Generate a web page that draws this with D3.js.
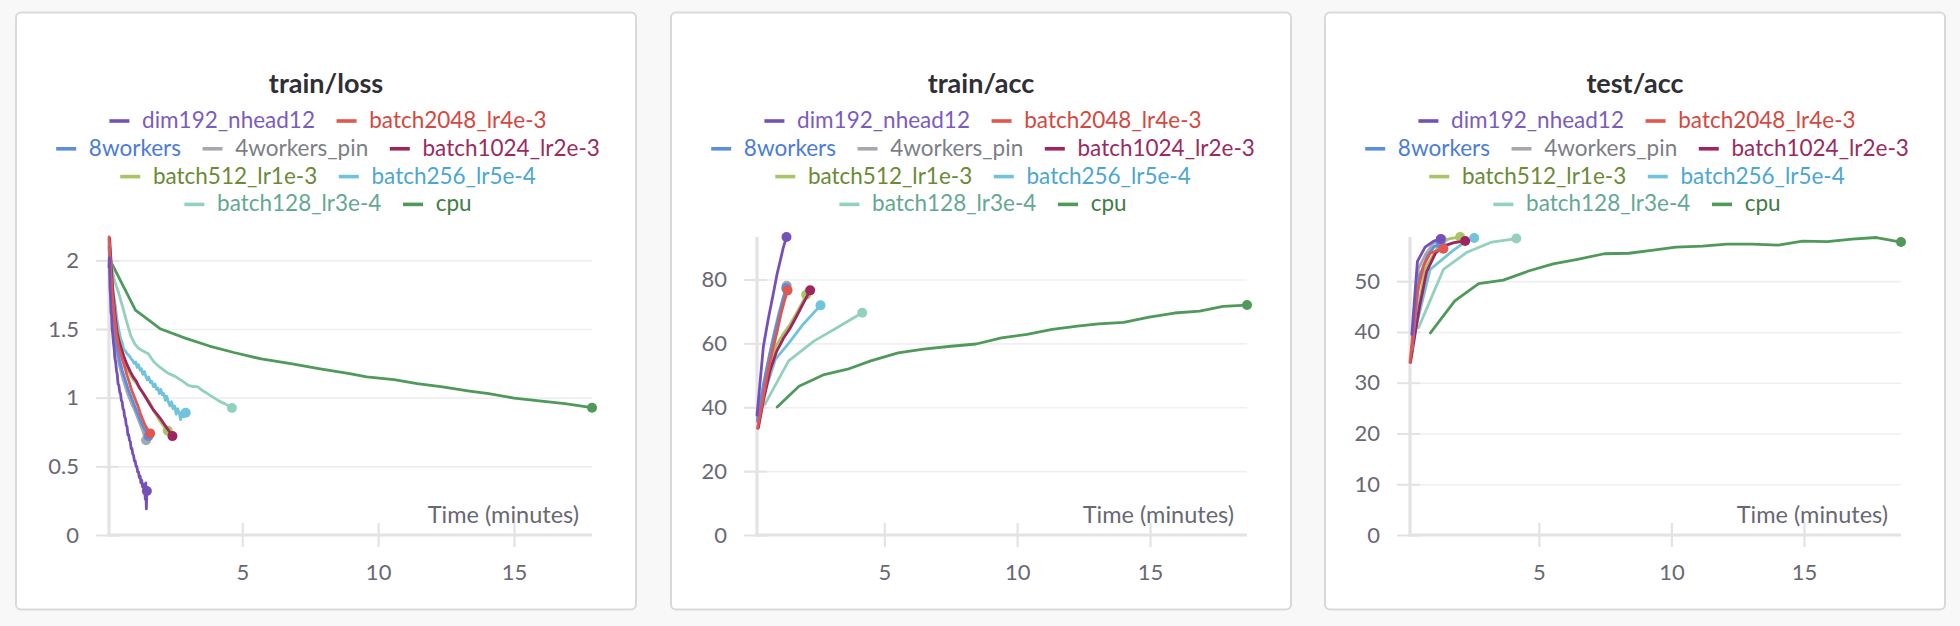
<!DOCTYPE html>
<html><head><meta charset="utf-8">
<script src="https://cdn.jsdelivr.net/npm/d3@7"></script>
<style>
html,body{margin:0;padding:0;background:#f8f8f8;}
svg{display:block;font-family:Lato,"Open Sans",sans-serif;}
</style>
</head><body>
<svg id="c" width="1960" height="626"></svg>
<script>
// ---------- categories / labels ----------
const runNames = ["dim192_nhead12","batch2048_lr4e-3","8workers","4workers_pin","batch1024_lr2e-3","batch512_lr1e-3","batch256_lr5e-4","batch128_lr3e-4","cpu"];
const lineColors = ["#7451b8","#e0574f","#5b8ee0","#a5a9ad","#a0245f","#a6c663","#6fc3dd","#93d1bf","#4f9a5b"];
const textColors = ["#7a5cc0","#d5473f","#4a7bd8","#7c7f84","#9a2a60","#6a8a35","#4ba6d2","#63a892","#3f7d47"];
const legendRows = [[0,1],[2,3,4],[5,6],[7,8]];
const panelTitles = ["train/loss","train/acc","test/acc"];
const xLabel = "Time (minutes)";
const xTickValues = [5,10,15];
const lossTicks = [0,0.5,1,1.5,2];
const trainAccTicks = [0,20,40,60,80];
const testAccTicks = [0,10,20,30,40,50];

// ---------- train/loss  [minutes, value] ----------
const loss_dim192 = [[0.096,1.95],[0.11,2.02],[0.13,1.80],[0.15,1.74],[0.17,1.62],[0.19,1.60],[0.21,1.50],[0.23,1.47],[0.26,1.40],[0.29,1.35],[0.31,1.29],[0.34,1.26],[0.37,1.20],[0.40,1.17],[0.43,1.10],[0.46,1.09],[0.49,1.04],[0.52,1.03],[0.55,0.98],[0.58,0.97],[0.61,0.92],[0.64,0.91],[0.67,0.86],[0.70,0.85],[0.73,0.80],[0.76,0.79],[0.79,0.73],[0.82,0.73],[0.85,0.69],[0.88,0.68],[0.91,0.63],[0.94,0.63],[0.97,0.59],[1.00,0.58],[1.03,0.54],[1.06,0.54],[1.09,0.50],[1.12,0.50],[1.15,0.46],[1.18,0.46],[1.21,0.42],[1.24,0.43],[1.27,0.38],[1.30,0.40],[1.33,0.35],[1.36,0.37],[1.39,0.31],[1.41,0.36],[1.43,0.26],[1.45,0.38],[1.47,0.19],[1.49,0.32]];
const loss_batch2048 = [[0.10,2.17],[0.15,1.95],[0.22,1.75],[0.30,1.58],[0.37,1.46],[0.44,1.38],[0.52,1.32],[0.60,1.27],[0.68,1.22],[0.75,1.17],[0.83,1.12],[0.92,1.06],[1.00,1.02],[1.08,0.98],[1.16,0.94],[1.24,0.89],[1.32,0.85],[1.40,0.81],[1.48,0.78],[1.55,0.76],[1.61,0.74]];
const loss_8workers = [[0.10,2.10],[0.15,1.88],[0.21,1.67],[0.28,1.50],[0.35,1.40],[0.42,1.33],[0.50,1.26],[0.58,1.20],[0.66,1.15],[0.74,1.10],[0.82,1.05],[0.90,1.01],[0.98,0.97],[1.06,0.93],[1.14,0.89],[1.22,0.85],[1.30,0.81],[1.38,0.78],[1.46,0.75],[1.55,0.72]];
const loss_4workers = [[0.10,2.12],[0.15,1.90],[0.21,1.68],[0.28,1.48],[0.34,1.38],[0.40,1.31],[0.47,1.24],[0.55,1.18],[0.62,1.13],[0.70,1.08],[0.78,1.03],[0.86,0.99],[0.94,0.95],[1.02,0.92],[1.10,0.88],[1.18,0.84],[1.26,0.80],[1.34,0.76],[1.40,0.72],[1.46,0.69]];
const loss_batch1024 = [[0.12,2.16],[0.18,1.95],[0.25,1.75],[0.33,1.58],[0.40,1.47],[0.48,1.40],[0.56,1.35],[0.66,1.29],[0.76,1.24],[0.88,1.19],[0.99,1.15],[1.10,1.12],[1.22,1.07],[1.36,1.03],[1.48,0.99],[1.60,0.95],[1.73,0.91],[1.86,0.88],[1.98,0.85],[2.10,0.815],[2.22,0.78],[2.33,0.75],[2.43,0.72]];
const loss_batch512 = [[0.11,2.05],[0.16,1.88],[0.22,1.72],[0.29,1.60],[0.36,1.52],[0.43,1.46],[0.50,1.40],[0.60,1.32],[0.70,1.25],[0.80,1.20],[0.90,1.16],[1.00,1.13],[1.12,1.10],[1.24,1.07],[1.36,1.03],[1.48,1.00],[1.61,0.96],[1.73,0.91],[1.85,0.87],[1.97,0.83],[2.08,0.80],[2.16,0.78],[2.26,0.76]];
const loss_batch256 = [[0.10,2.15],[0.14,1.98],[0.19,1.85],[0.25,1.76],[0.32,1.68],[0.38,1.58],[0.45,1.50],[0.52,1.43],[0.58,1.40],[0.64,1.35],[0.70,1.34],[0.76,1.32],[0.81,1.31],[0.86,1.30],[0.92,1.28],[0.97,1.27],[1.02,1.25],[1.08,1.26],[1.13,1.22],[1.18,1.24],[1.24,1.20],[1.29,1.21],[1.34,1.17],[1.40,1.19],[1.46,1.15],[1.51,1.13],[1.56,1.15],[1.62,1.11],[1.67,1.12],[1.73,1.08],[1.79,1.10],[1.84,1.06],[1.89,1.07],[1.95,1.03],[2.00,1.06],[2.06,1.02],[2.11,1.03],[2.17,0.98],[2.22,1.01],[2.28,0.97],[2.34,0.94],[2.40,0.97],[2.45,0.92],[2.51,0.94],[2.57,0.88],[2.62,0.92],[2.68,0.89],[2.73,0.84],[2.78,0.90],[2.84,0.86],[2.88,0.90],[2.92,0.89]];
const loss_batch128 = [[0.12,2.10],[0.20,1.95],[0.30,1.85],[0.44,1.77],[0.60,1.66],[0.75,1.55],[0.90,1.45],[1.05,1.39],[1.18,1.36],[1.35,1.34],[1.54,1.32],[1.75,1.26],[1.98,1.22],[2.25,1.18],[2.53,1.155],[2.80,1.12],[3.02,1.09],[3.20,1.08],[3.35,1.08],[3.55,1.05],[3.72,1.03],[3.95,1.00],[4.15,0.975],[4.37,0.955],[4.50,0.94],[4.62,0.925]];
const loss_cpu = [[0.14,2.0],[1.07,1.638],[2.0,1.50],[2.9,1.434],[3.79,1.376],[4.69,1.329],[5.70,1.282],[6.78,1.248],[7.87,1.209],[8.95,1.175],[9.58,1.152],[10.58,1.131],[11.44,1.102],[12.37,1.079],[13.3,1.05],[14.07,1.029],[15.0,0.997],[15.93,0.977],[16.87,0.956],[17.87,0.927]];

// ---------- train/acc ----------
const trainAcc_dim192 = [[0.21,37.5],[0.45,59],[0.63,67.5],[0.81,75],[0.96,81.5],[1.08,85.7],[1.20,90],[1.32,93.3]];
const trainAcc_batch2048 = [[0.23,33.4],[0.40,41],[0.58,49.5],[0.77,57],[0.95,63],[1.12,69.5],[1.25,73.5],[1.36,76.6]];
const trainAcc_8workers = [[0.23,36],[0.48,48],[0.68,56],[0.88,63.5],[1.06,69.5],[1.20,74],[1.31,77.3]];
const trainAcc_4workers = [[0.22,35.5],[0.45,47],[0.64,55],[0.85,63],[1.05,70],[1.20,74.5],[1.33,78.0]];
const trainAcc_batch1024 = [[0.26,33.5],[0.45,42],[0.70,51.5],[0.95,57.5],[1.20,61.5],[1.46,64.8],[1.70,68.5],[1.95,72.5],[2.21,76.6]];
const trainAcc_batch512 = [[0.24,38.5],[0.45,46],[0.70,54],[0.95,59.5],[1.20,63],[1.46,66],[1.70,69.5],[1.90,72.5],[2.06,75.2]];
const trainAcc_batch256 = [[0.33,39.5],[0.57,46.5],[0.90,55],[1.40,60],[1.95,66],[2.60,71.9]];
const trainAcc_batch128 = [[0.50,40.8],[1.40,54.5],[2.35,60.7],[3.22,64.9],[4.17,69.6]];
const trainAcc_cpu = [[0.97,40.1],[1.79,46.6],[2.70,50.1],[3.62,51.9],[4.49,54.5],[5.52,57.0],[6.48,58.2],[7.51,59.1],[8.46,59.8],[9.41,61.7],[10.37,62.8],[11.32,64.4],[12.27,65.4],[13.06,66.1],[14.01,66.6],[14.97,68.2],[15.92,69.5],[16.87,70.1],[17.75,71.6],[18.65,72.0]];

// ---------- test/acc ----------
const testAcc_dim192 = [[0.21,39.5],[0.42,53.9],[0.71,56.7],[1.03,57.9],[1.30,58.3]];
const testAcc_batch2048 = [[0.14,34],[0.40,47.5],[0.65,53],[0.90,55.5],[1.15,56.0],[1.40,56.4]];
const testAcc_8workers = [[0.22,37],[0.50,51],[0.80,55],[1.05,56.8],[1.30,57.3]];
const testAcc_4workers = [[0.21,36.5],[0.46,52.5],[0.75,55.5],[1.03,57.5],[1.34,58.2]];
const testAcc_batch1024 = [[0.16,34],[0.50,45],[0.77,51.9],[1.10,55.5],[1.40,56.9],[1.80,57.6],[2.22,57.9]];
const testAcc_batch512 = [[0.27,38.5],[0.70,52.3],[1.28,57.5],[1.65,58.4],[2.03,58.7]];
const testAcc_batch256 = [[0.27,39],[0.90,52.3],[1.66,55.6],[2.10,57.3],[2.56,58.5]];
const testAcc_batch128 = [[0.46,40.8],[1.40,52.3],[2.29,55.7],[3.23,57.7],[4.15,58.4]];
const testAcc_cpu = [[0.91,39.8],[1.83,46.1],[2.73,49.5],[3.66,50.2],[4.61,52.0],[5.54,53.4],[6.46,54.3],[7.47,55.4],[8.40,55.5],[9.32,56.1],[10.17,56.7],[11.17,56.9],[12.1,57.3],[13.03,57.3],[14.03,57.1],[14.95,57.9],[15.88,57.8],[16.81,58.3],[17.73,58.6],[18.66,57.7]];

// ---------- assemble ----------
const lossSeries = [loss_dim192,loss_batch2048,loss_8workers,loss_4workers,loss_batch1024,loss_batch512,loss_batch256,loss_batch128,loss_cpu];
const trainAccSeries = [trainAcc_dim192,trainAcc_batch2048,trainAcc_8workers,trainAcc_4workers,trainAcc_batch1024,trainAcc_batch512,trainAcc_batch256,trainAcc_batch128,trainAcc_cpu];
const testAccSeries = [testAcc_dim192,testAcc_batch2048,testAcc_8workers,testAcc_4workers,testAcc_batch1024,testAcc_batch512,testAcc_batch256,testAcc_batch128,testAcc_cpu];

const panels = [
  {title: panelTitles[0], series: lossSeries, ticks: lossTicks, px: 16, left: 93},
  {title: panelTitles[1], series: trainAccSeries, ticks: trainAccTicks, px: 671, left: 86},
  {title: panelTitles[2], series: testAccSeries, ticks: testAccTicks, px: 1325, left: 85}
];

const svg = d3.select("#c");
svg.append("rect").attr("width",1960).attr("height",626).attr("fill","#f8f8f8");

const PW = 620, PY = 12.5, PH = 597, TOP = 237, BOTTOM = 535;
const axisCol = "#e3e3e5", gridCol = "#efeff0", labelCol = "#686874";

panels.forEach(p => {
  const g = svg.append("g");
  g.append("rect").attr("x",p.px).attr("y",PY).attr("width",PW).attr("height",PH)
    .attr("rx",5).attr("fill","#fff").attr("stroke","#d9d9dc").attr("stroke-width",2);

  const cx = p.px + PW/2;
  g.append("text").attr("x",cx).attr("y",93).attr("text-anchor","middle")
    .attr("font-size",27).attr("font-weight",700).attr("fill","#2f2f35").text(p.title);

  // legend
  legendRows.forEach((row, ri) => {
    const rg = g.append("g");
    const base = 128 + ri*27.8;
    let xx = 0;
    row.forEach((k, j) => {
      if (j > 0) xx += 21.6;
      rg.append("line").attr("x1",xx).attr("x2",xx+20).attr("y1",base-7).attr("y2",base-7)
        .attr("stroke",lineColors[k]).attr("stroke-width",3.6);
      const t = rg.append("text").attr("x",xx+32.7).attr("y",base).attr("font-size",22.5)
        .attr("fill",textColors[k]).text(runNames[k]);
      xx += 32.7 + t.node().getComputedTextLength();
    });
    rg.attr("transform",`translate(${cx + 2 - xx/2},0)`);
  });

  const L = p.px + p.left, R = p.px + PW - 44;
  const all = p.series.flat();
  const x = d3.scaleLinear().domain(d3.extent(all, d => d[0])).range([L, R]);
  const y = d3.scaleLinear().domain([0, d3.max(all, d => d[1])]).range([BOTTOM, TOP]);

  // grid lines
  const grid = g.append("g").attr("transform",`translate(${L-13},0)`)
    .call(d3.axisRight(y).tickValues(p.ticks).tickSize(R-L+13).tickFormat(""));
  grid.select(".domain").remove();
  grid.selectAll("line").attr("stroke",gridCol).attr("stroke-width",1.6);

  // y ticks + labels
  const ya = g.append("g").attr("transform",`translate(${L+10},0)`)
    .call(d3.axisLeft(y).tickValues(p.ticks).tickSize(23).tickPadding(17).tickFormat(d => String(d)));
  ya.select(".domain").remove();
  ya.selectAll("line").attr("stroke",axisCol).attr("stroke-width",2);
  ya.selectAll("text").attr("font-size",22).attr("fill",labelCol).attr("font-family","Lato");

  // x ticks + labels
  const xa = g.append("g").attr("transform",`translate(0,523)`)
    .call(d3.axisBottom(x).tickValues(xTickValues).tickSize(24).tickPadding(17.5));
  xa.select(".domain").remove();
  xa.selectAll("line").attr("stroke",axisCol).attr("stroke-width",2.2);
  xa.selectAll("text").attr("font-size",22).attr("fill",labelCol).attr("font-family","Lato");

  // axis lines
  g.append("line").attr("x1",L).attr("x2",L).attr("y1",TOP).attr("y2",BOTTOM+1.5)
    .attr("stroke",axisCol).attr("stroke-width",3.2);
  g.append("line").attr("x1",L-1.5).attr("x2",R).attr("y1",BOTTOM).attr("y2",BOTTOM)
    .attr("stroke",axisCol).attr("stroke-width",3.2);

  g.append("text").attr("x",R-13).attr("y",523).attr("text-anchor","end")
    .attr("font-size",23.5).attr("fill",labelCol).text(xLabel);

  // series (first run drawn on top)
  const line = d3.line().x(d => x(d[0])).y(d => y(d[1]));
  for (let k = p.series.length-1; k >= 0; k--) {
    const s = p.series[k];
    g.append("path").datum(s).attr("d",line).attr("fill","none")
      .attr("stroke",lineColors[k]).attr("stroke-width",2.8)
      .attr("stroke-linejoin","round").attr("stroke-linecap","round");
    const last = s[s.length-1];
    g.append("circle").attr("cx",x(last[0])).attr("cy",y(last[1])).attr("r",5)
      .attr("fill",lineColors[k]);
  }
});
</script>
</body></html>
